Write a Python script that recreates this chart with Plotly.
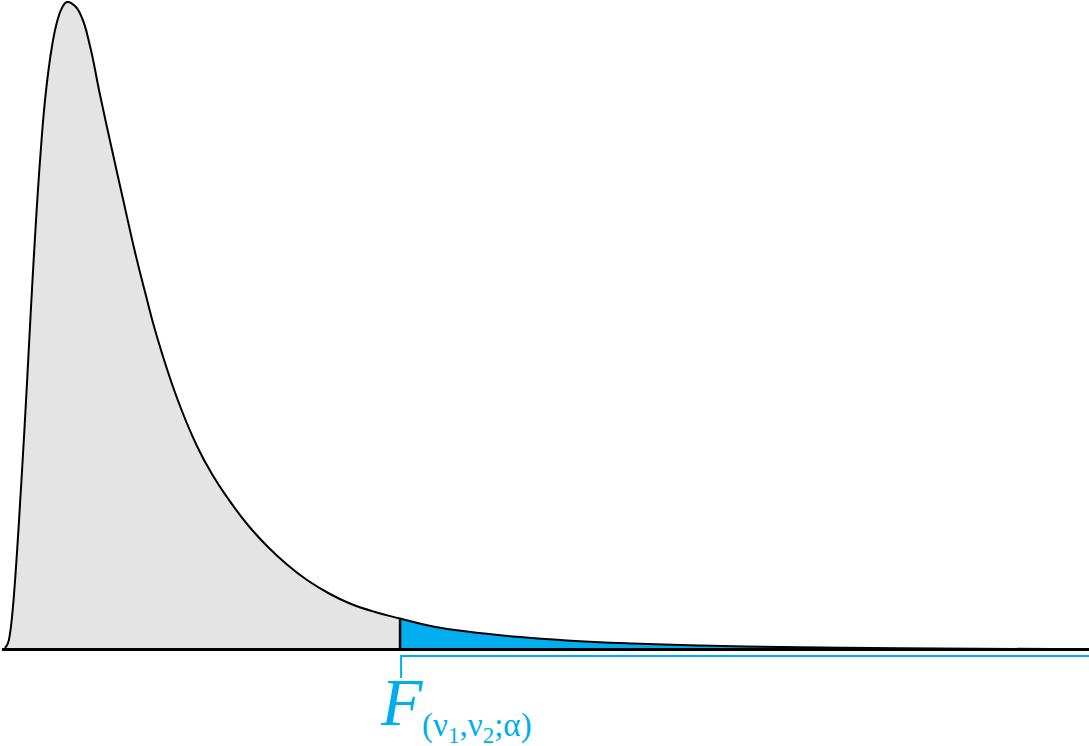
import plotly.graph_objects as go

# Density curve (F-value, density)
curve_x = [0.033, 0.053, 0.067, 0.080, 0.093, 0.113, 0.133, 0.153, 0.173, 0.193,
           0.213, 0.233, 0.253, 0.273, 0.293, 0.320, 0.347, 0.380, 0.413, 0.447,
           0.500, 0.547, 0.600, 0.667, 0.747, 0.820, 0.900, 0.967, 1.047, 1.180,
           1.313, 1.413, 1.513, 1.647, 1.780, 1.913, 2.047, 2.200, 2.333, 2.500,
           2.667, 2.887, 3.113, 3.447, 3.780, 4.220, 4.667, 5.333, 6.000, 7.247]
curve_y = [0.0019, 0.0081, 0.0206, 0.0406, 0.0681, 0.1206, 0.1806, 0.2431, 0.3094, 0.3794,
           0.4494, 0.5144, 0.5744, 0.6269, 0.6731, 0.7194, 0.7544, 0.7844, 0.8019, 0.8094,
           0.8044, 0.7894, 0.7544, 0.6931, 0.6244, 0.5631, 0.4969, 0.4469, 0.3906, 0.3144,
           0.2544, 0.2194, 0.1906, 0.1569, 0.1294, 0.1063, 0.0869, 0.0694, 0.0575, 0.0469,
           0.0388, 0.0288, 0.0225, 0.0159, 0.0113, 0.0075, 0.0050, 0.0028, 0.0015, 0.0004]
critical_x = 2.667
x_start = 0.013
x_end = 7.26

GRAY = "#E4E4E4"
BLUE = "#00AEEF"
SMOOTH = 1.3

idx = curve_x.index(critical_x)
left_x, left_y = curve_x[:idx + 1], curve_y[:idx + 1]
right_x, right_y = curve_x[idx:], curve_y[idx:]
crit_y = curve_y[idx]

fig = go.Figure()
fig.add_trace(go.Scatter(x=left_x, y=left_y, mode="lines",
                         line=dict(width=0, shape="spline", smoothing=SMOOTH),
                         fill="tozeroy", fillcolor=GRAY, hoverinfo="skip"))
fig.add_trace(go.Scatter(x=right_x, y=right_y, mode="lines",
                         line=dict(width=0, shape="spline", smoothing=SMOOTH),
                         fill="tozeroy", fillcolor=BLUE, hoverinfo="skip"))
fig.add_trace(go.Scatter(x=curve_x, y=curve_y, mode="lines",
                         line=dict(color="black", width=2, shape="spline", smoothing=SMOOTH),
                         hoverinfo="skip"))
# critical value vertical
fig.add_trace(go.Scatter(x=[critical_x, critical_x], y=[0, crit_y], mode="lines",
                         line=dict(color="black", width=2.5), hoverinfo="skip"))
# baseline
fig.add_trace(go.Scatter(x=[x_start, x_end], y=[0, 0], mode="lines",
                         line=dict(color="black", width=3), hoverinfo="skip"))
# blue bracket
fig.add_trace(go.Scatter(x=[critical_x + 0.007, critical_x + 0.007, x_end],
                         y=[-0.0356, -0.0081, -0.0081], mode="lines",
                         line=dict(color=BLUE, width=2), hoverinfo="skip"))

fig.add_annotation(x=2.52, y=-0.066, text="<i>F</i>", showarrow=False,
                   xanchor="left", yanchor="middle",
                   font=dict(family="Liberation Serif", size=68, color=BLUE))
fig.add_annotation(x=2.80, y=-0.097, text="(ν<sub>1</sub>,ν<sub>2</sub>;α)", showarrow=False,
                   xanchor="left", yanchor="middle",
                   font=dict(family="Liberation Serif", size=33, color=BLUE))

fig.update_layout(width=1089, height=746, margin=dict(l=0, r=0, t=0, b=0),
                  paper_bgcolor="white", plot_bgcolor="white", showlegend=False)
fig.update_xaxes(range=[0, 7.26], visible=False)
fig.update_yaxes(range=[-0.1206, 0.8119], visible=False)
fig.write_html("out.html", config={"displayModeBar": False})

with open("out.html", "r", encoding="utf-8") as f:
    html = f.read()
html = html.replace("<body>", '<body style="margin:0;overflow:hidden">', 1)
with open("out.html", "w", encoding="utf-8") as f:
    f.write(html)
